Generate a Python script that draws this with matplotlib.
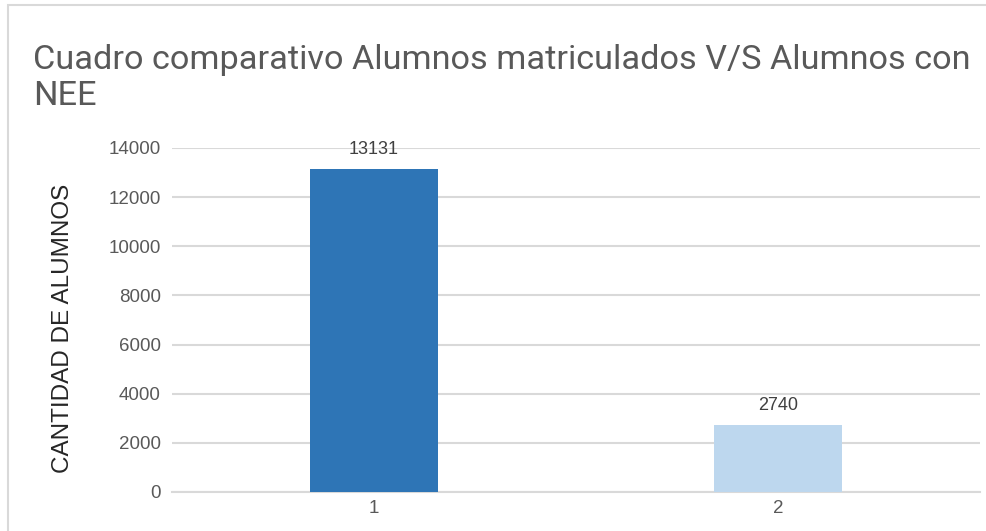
import matplotlib
matplotlib.use("Agg")
import matplotlib.pyplot as plt
from matplotlib.patches import Rectangle

categories = ["1", "2"]
values = [13131, 2740]
colors = ["#2E75B6", "#BDD7EE"]
yticks = [0, 2000, 4000, 6000, 8000, 10000, 12000, 14000]

plt.rcParams["font.family"] = ["Liberation Sans", "DejaVu Sans"]

fig = plt.figure(figsize=(9.86, 5.31), dpi=100)
fig.patches.append(Rectangle((8/986, -0.05), 1.2, 1 - 5/531 + 0.05, transform=fig.transFigure,
                             fill=False, edgecolor="#D9D9D9", linewidth=1.5))
ax = fig.add_axes([172/986, 1-492/531, (980-172)/986, (492-148)/531])

x = [0, 1]
bars = ax.bar(x, values, width=0.315, color=colors, zorder=3)
ax.set_xlim(-0.5, 1.5)
ax.set_ylim(0, 14000)
ax.set_yticks(yticks)
ax.set_yticklabels([str(t) for t in yticks])
ax.set_xticks(x)
ax.set_xticklabels(categories)
ax.tick_params(axis="both", length=0, colors="#595959", labelsize=13.5)
ax.tick_params(axis="y", pad=8)
ax.tick_params(axis="x", pad=6)
ax.grid(axis="y", color="#D9D9D9", linewidth=1.5, zorder=0)
for s in ["top", "right", "left"]:
    ax.spines[s].set_visible(False)
ax.spines["bottom"].set_color("#D9D9D9")
ax.spines["bottom"].set_linewidth(1.5)

for xi, v in zip(x, values):
    ax.annotate(str(v), (xi, v), xytext=(0, 8), textcoords="offset points",
                ha="center", va="bottom", fontsize=13, color="#404040", zorder=4)

ax.set_ylabel("CANTIDAD DE ALUMNOS", fontsize=17.5, color="#262626")
ax.yaxis.set_label_coords(-(172-74)/808, (492-328)/344)

fig.text(33/986, 1-44/531, "Cuadro comparativo Alumnos matriculados V/S Alumnos con\nNEE",
         fontsize=24.7, color="#595959", family=["Roboto", "DejaVu Sans"],
         ha="left", va="top", linespacing=1.17)

fig.savefig("out.png", dpi=100)
